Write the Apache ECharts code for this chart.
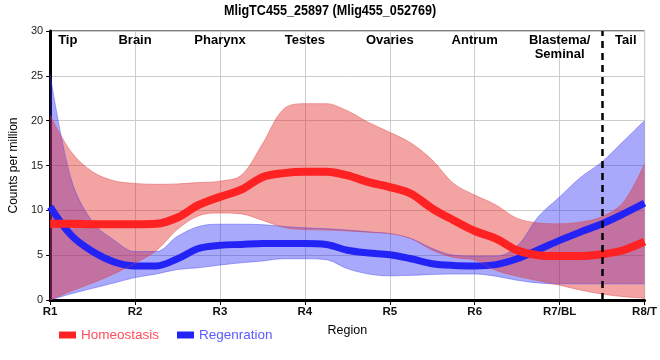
<!DOCTYPE html>
<html>
<head>
<meta charset="utf-8">
<script src="https://cdn.jsdelivr.net/npm/echarts@6/dist/echarts.min.js"></script>
<style>html,body{margin:0;padding:0;background:#fff}#c{width:660px;height:360px}</style>
</head>
<body>
<div id="c"></div>
<script>
// positions along the body, quarter steps (1 = R1 ... 8 = R8/T)
var xs = ['1', '1.25', '1.5', '1.75', '2', '2.25', '2.5', '2.75', '3', '3.25', '3.5', '3.75', '4', '4.25', '4.5', '4.75', '5', '5.25', '5.5', '5.75', '6', '6.25', '6.5', '6.75', '7', '7.25', '7.5', '7.75', '8'];
var xTickLabels = ['R1', 'R2', 'R3', 'R4', 'R5', 'R6', 'R7/BL', 'R8/T'];
var regionLabels = ['Tip', 'Brain', 'Pharynx', 'Testes', 'Ovaries', 'Antrum', 'Blastema/\nSeminal', 'Tail'];
var yTicks = [0, 5, 10, 15, 20, 25, 30];
var boundaryX = '7.5';
var titleText = 'MligTC455_25897 (Mlig455_052769)';

// Homeostasis: mean, upper and lower band
var homeoMean  = [8.5, 8.5, 8.45, 8.45, 8.45, 8.5, 9.2, 10.6, 11.5, 12.3, 13.7, 14.15, 14.3, 14.3, 13.9, 13.15, 12.6, 11.85, 10.2, 8.9, 7.7, 6.85, 5.55, 5.0, 4.9, 4.9, 5.1, 5.55, 6.5];
var homeoUpper = [20.6, 16.5, 14.3, 13.3, 13.0, 12.9, 12.95, 13.1, 13.25, 13.9, 17.4, 21.3, 21.9, 21.9, 21.1, 19.8, 18.7, 17.5, 15.6, 13.0, 11.7, 10.6, 9.1, 8.6, 8.5, 8.7, 9.3, 10.9, 15.2];
var homeoLower = [0, 1.0, 1.9, 2.9, 4.1, 5.5, 7.9, 9.4, 9.7, 9.6, 8.9, 8.1, 7.85, 7.8, 7.7, 7.55, 7.4, 6.85, 5.55, 4.75, 4.45, 3.3, 2.65, 2.15, 1.65, 1.1, 0.67, 0.37, 0.2];

// Regenration: mean, upper and lower band
var regenMean  = [10.4, 7.2, 5.4, 4.25, 3.8, 3.8, 4.6, 5.75, 6.1, 6.2, 6.3, 6.3, 6.3, 6.2, 5.55, 5.25, 5.05, 4.6, 4.05, 3.85, 3.8, 3.95, 4.6, 5.6, 6.65, 7.6, 8.5, 9.6, 10.8];
var regenUpper = [25.2, 13.4, 8.7, 6.7, 5.4, 5.4, 7.1, 8.2, 8.45, 8.45, 8.4, 8.2, 8.05, 7.95, 7.8, 7.6, 7.4, 6.85, 5.75, 5.0, 4.9, 4.9, 6.0, 9.3, 11.5, 13.7, 15.4, 17.7, 20.0];
var regenLower = [0, 0.7, 1.3, 1.9, 2.5, 2.9, 3.4, 3.6, 3.9, 4.15, 4.35, 4.6, 4.6, 4.5, 3.5, 2.9, 2.7, 2.75, 2.85, 2.9, 2.9, 2.65, 2.2, 1.9, 1.8, 1.8, 1.8, 1.8, 1.8];

function diff(up, lo) { return up.map(function (v, i) { return +(v - lo[i]).toFixed(3); }); }
function isMajor(i) { return i % 4 === 0; }

var SANS = '"Liberation Sans", Arial, sans-serif';
var SM = 0.35;

function bandBase(name, stack, data, border) {
  return { name: name, type: 'line', stack: stack, data: data, smooth: SM, symbol: 'none',
    lineStyle: { width: 1, color: border }, silent: true };
}
function bandTop(name, stack, data, border, fill) {
  return { name: name, type: 'line', stack: stack, data: data, smooth: SM, symbol: 'none',
    lineStyle: { width: 1, color: border }, areaStyle: { color: fill, opacity: 1 }, silent: true };
}

var chart = echarts.init(document.getElementById('c'), null, { renderer: 'canvas' });
chart.setOption({
  animation: false,
  graphic: [{
    type: 'text', x: 330, y: 3, scaleX: 0.84, silent: true,
    style: { text: titleText, textAlign: 'center', textVerticalAlign: 'top',
      font: 'bold 15px "Liberation Sans", Arial, sans-serif', fill: '#000' }
  }],
  legend: {
    left: 54, top: 323, icon: 'rect', itemWidth: 17, itemHeight: 7, itemGap: 18,
    itemStyle: { borderWidth: 0, borderColor: 'rgba(0,0,0,0)' },
    lineStyle: { width: 0 },
    textStyle: { fontFamily: SANS, fontSize: 13.5 },
    data: [
      { name: 'Homeostasis', textStyle: { color: '#ff4d5a' } },
      { name: 'Regenration', textStyle: { color: '#5a5aff' } }
    ]
  },
  grid: { left: 50, right: 10, top: 31, bottom: 60, show: true, borderColor: '#000', borderWidth: 1 },
  xAxis: [{
    type: 'category', data: xs, boundaryGap: false, position: 'bottom',
    name: 'Region', nameLocation: 'middle', nameGap: 24,
    nameTextStyle: { fontFamily: SANS, fontSize: 12.5, color: '#000' },
    axisLine: { show: true, lineStyle: { color: '#000', width: 3 } },
    axisTick: { show: true, length: 5, interval: isMajor, lineStyle: { color: '#000', width: 1 } },
    axisLabel: {
      margin: 6, interval: isMajor, fontFamily: SANS, fontWeight: 'bold', fontSize: 11.5, color: '#111',
      formatter: function (v, i) { return xTickLabels[i / 4] || ''; }
    },
    splitLine: { show: true, interval: isMajor, lineStyle: { color: '#cccccc', width: 1 } }
  }, {
    type: 'category', data: xs, boundaryGap: false, position: 'top',
    axisLine: { show: false }, axisTick: { show: false }, splitLine: { show: false },
    axisLabel: {
      inside: true, margin: 2, interval: isMajor, fontFamily: SANS, fontWeight: 'bold', fontSize: 13, color: '#000',
      lineHeight: 14, alignMinLabel: 'left', alignMaxLabel: 'right',
      formatter: function (v, i) {
        var k = i / 4;
        if (k === 0) return '{l|' + regionLabels[k] + '}';
        if (k === regionLabels.length - 1) return '{r|' + regionLabels[k] + '}';
        return regionLabels[k] || '';
      },
      rich: {
        l: { padding: [0, 0, 0, 8], fontFamily: SANS, fontWeight: 'bold', fontSize: 13, color: '#000' },
        r: { padding: [0, 8, 0, 0], fontFamily: SANS, fontWeight: 'bold', fontSize: 13, color: '#000' }
      }
    }
  }],
  yAxis: {
    type: 'value', min: yTicks[0], max: yTicks[yTicks.length - 1], interval: 5,
    name: 'Counts per million', nameLocation: 'middle', nameGap: 25,
    nameTextStyle: { fontFamily: SANS, fontSize: 12, color: '#000' },
    axisLine: { show: true, lineStyle: { color: '#000', width: 3 } },
    axisTick: { show: true, length: 4, lineStyle: { color: '#000' } },
    axisLabel: { margin: 7, fontFamily: SANS, fontSize: 11, color: '#222' },
    splitLine: { show: true, lineStyle: { color: '#cccccc', width: 1 } }
  },
  series: [
    bandBase('rLow', 'r', regenLower, 'rgba(70,70,240,0.45)'),
    bandTop('rBand', 'r', diff(regenUpper, regenLower), 'rgba(70,70,240,0.45)', 'rgba(40,40,245,0.4)'),
    { name: 'Regenration', type: 'line', data: regenMean, smooth: SM, symbol: 'none',
      color: '#2323f5', itemStyle: { borderWidth: 0 }, lineStyle: { width: 7, color: '#2323f5' } },
    bandBase('hLow', 'h', homeoLower, 'rgba(225,70,70,0.45)'),
    bandTop('hBand', 'h', diff(homeoUpper, homeoLower), 'rgba(225,70,70,0.45)', 'rgba(228,35,35,0.42)'),
    { name: 'Homeostasis', type: 'line', data: homeoMean, smooth: SM, symbol: 'none',
      color: '#ff2222', itemStyle: { borderWidth: 0 }, lineStyle: { width: 8, color: '#ff2222' },
      markLine: {
        silent: true, symbol: 'none', label: { show: false },
        lineStyle: { color: '#000', type: [7, 5], width: 2.5 },
        data: [{ xAxis: boundaryX }]
      }
    }
  ]
});
</script>
</body>
</html>
